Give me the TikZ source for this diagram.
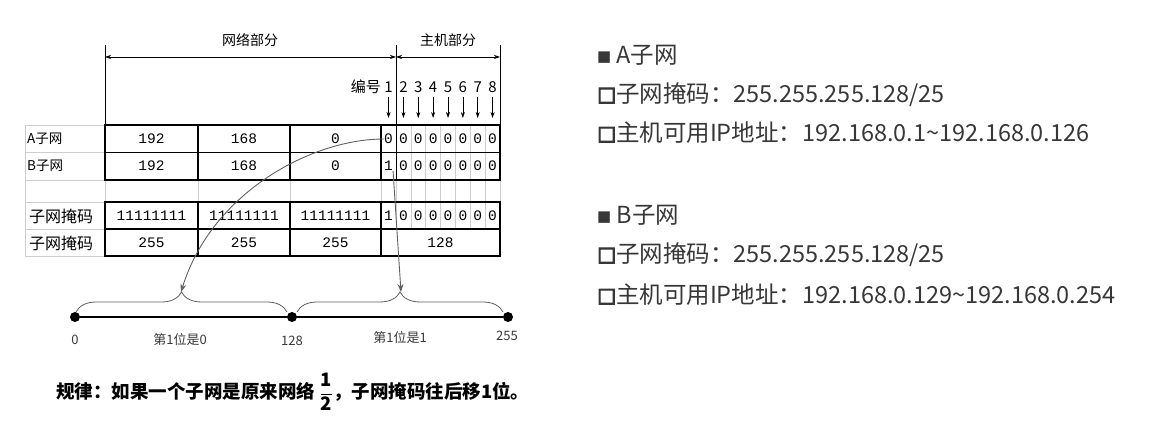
\documentclass[tikz,border=0pt]{standalone}
\usepackage{fontspec}
\usepackage{amsmath}
\setmainfont{Noto Sans CJK SC}
\newfontfamily\cellfont{Liberation Mono}
\newfontfamily\symfont{DejaVu Sans}
\newfontfamily\symbold{DejaVu Sans}[FakeBold=5]
\usetikzlibrary{arrows.meta}
\usetikzlibrary{decorations.pathreplacing}
\definecolor{gridgray}{RGB}{205,205,205}
\definecolor{textgray}{RGB}{55,55,55}
\definecolor{arrowgray}{RGB}{95,95,95}
\newcommand{\filledmark}{\raisebox{1.5pt}{\symfont\fontsize{15}{15}\selectfont ■}}
\newcommand{\hollowmark}{\raisebox{2pt}{\symbold\fontsize{20}{20}\selectfont □}}
\tikzset{
  thickline/.style={line width=1.6pt,black},
  gridline/.style={line width=0.6pt,gridgray},
  cell/.style={font=\cellfont\fontsize{14.5}{14.5}\selectfont,inner sep=0pt},
  rowlabel/.style={anchor=west,inner sep=0pt},
  dimline/.style={line width=0.7pt,{Stealth[length=6pt,width=4pt]}-{Stealth[length=6pt,width=4pt]}},
  downarrow/.style={line width=0.7pt,-{Stealth[length=6pt,width=4pt]}},
  linkarrow/.style={line width=0.9pt,arrowgray,-{Stealth[length=8pt,width=6pt]}},
  bracedeco/.style={decorate,decoration={brace,amplitude=20pt},line width=0.8pt,arrowgray},
  dot/.style={circle,fill=black,inner sep=0pt,minimum size=10pt},
  scalelabel/.style={font=\fontsize{13}{13}\selectfont,textgray},
  infotext/.style={anchor=west,inner sep=0pt,font=\fontsize{23.5}{23.5}\selectfont,textgray},
}
\begin{document}
\begin{tikzpicture}[x=1pt,y=-1pt]
  \useasboundingbox (0,0) rectangle (1149,422);
  \pgfmathsetmacro{\bitw}{104/7}
  % thin grid
  \foreach \y in {125,152,180,202,229,256}
    \draw[gridline] (25,\y) -- (105,\y);
  \draw[gridline] (25,125) -- (25,256);
  \foreach \x in {105,198,290,381,396,500}
    \draw[gridline] (\x,180) -- (\x,202);
  \draw[gridline] (396,180) -- (396,229);
  \foreach \k in {1,...,6}
    \draw[gridline] ({396+\k*\bitw},125) -- ({396+\k*\bitw},229);
  % thick blocks
  \foreach \top/\bot in {125/180,202/256} {
    \draw[thickline] (105,\top) rectangle (500,\bot);
    \draw[thickline] (105,{(\top+\bot)/2}) -- (500,{(\top+\bot)/2});
    \foreach \x in {198,290,381}
      \draw[thickline] (\x,\top) -- (\x,\bot);
  }
  % row labels
  \node[rowlabel,font=\fontsize{13.5}{13.5}\selectfont] (labA) at (27,139) {A子网};
  \node[rowlabel,font=\fontsize{13.5}{13.5}\selectfont] (labB) at (27,166) {B子网};
  \node[rowlabel,font=\fontsize{16}{16}\selectfont] (labM) at (29,216) {子网掩码};
  \node[rowlabel,font=\fontsize{16}{16}\selectfont] (labD) at (29,243) {子网掩码};
  % octets
  \foreach \x/\v [count=\i] in {151.5/192,244/168,335.5/0} {
    \node[cell] (anet\i) at (\x,139) {\v};
    \node[cell] (bnet\i) at (\x,166) {\v};
    \node[cell] (mbin\i) at (\x,216) {11111111};
    \node[cell] (mdec\i) at (\x,243) {255};
  }
  \node[cell] (mdec4) at (440.5,243) {128};
  % bits
  \foreach \r/\y/\first in {a/139/0,b/166/1,m/216/1} {
    \node[cell] (\r1) at (388.5,\y) {\first};
    \foreach \k in {2,...,8}
      \node[cell] (\r\k) at ({396+(\k-1.5)*\bitw},\y) {0};
  }
  % network / host parts
  \coordinate (netL) at (105,57);
  \coordinate (split) at (396,57);
  \coordinate (hostR) at (500,57);
  \draw[line width=0.7pt] (105,45) -- (105,125);
  \draw[line width=0.7pt] (396,45) -- (396,180);
  \draw[line width=0.7pt] (500,45) -- (500,125);
  \draw[dimline] (netL) -- (split);
  \draw[dimline] (split) -- (hostR);
  \node[font=\fontsize{14}{14}\selectfont] (netpart) at (250,40) {网络部分};
  \node[font=\fontsize{14}{14}\selectfont] (hostpart) at (448,40) {主机部分};
  \node[anchor=east,font=\fontsize{15}{15}\selectfont,inner sep=0pt] (numlabel) at (381,87) {编号};
  \foreach \k in {1,...,8} {
    \pgfmathsetmacro{\bx}{\k==1 ? 388.5 : 396+(\k-1.5)*\bitw}
    \node[font=\fontsize{15}{15}\selectfont,inner sep=0pt] (num\k) at (\bx,87) {\k};
    \draw[downarrow] ([yshift=-4pt]num\k.south) -- (num\k.south |- 0,118);
  }
  % scale 0..255
  \node[dot] (p0) at (75,317) {};
  \node[dot] (p128) at (292,317) {};
  \node[dot] (p255) at (508,317) {};
  \draw[line width=2.6pt] (p0) -- (p255);
  \draw[bracedeco] (76,312) -- (287,312);
  \draw[bracedeco] (297,312) -- (503,312);
  \coordinate (ltip) at (181,292);
  \coordinate (rtip) at (401,292);
  \draw[linkarrow] (a1.west) .. controls (312,139) and (212,192) .. (ltip);
  \draw[linkarrow] (b1.south east) -- (rtip);
  \node[scalelabel] (l0) at (75,340) {0};
  \node[scalelabel] (lhalf0) at (180,340) {第1位是0};
  \node[scalelabel] (l128) at (292,341) {128};
  \node[scalelabel] (lhalf1) at (400,338) {第1位是1};
  \node[scalelabel] (l255) at (507,336) {255};
  % rule
  \node[anchor=west,inner sep=0pt,font=\bfseries\fontsize{18.5}{18.5}\selectfont] (rule) at (56,392)
    {规律：如果一个子网是原来网络 $\dfrac{\textbf{1}}{\textbf{2}}$，子网掩码往后移1位。};
  % subnet notes
  \node[infotext] (headA) at (597,55) {\filledmark\ A子网};
  \node[infotext] (maskA) at (597,95) {\hollowmark 子网掩码：255.255.255.128/25};
  \node[infotext] (hostA) at (597,133) {\hollowmark 主机可用IP地址：192.168.0.1\textasciitilde192.168.0.126};
  \node[infotext] (headB) at (597,215) {\filledmark\ B子网};
  \node[infotext] (maskB) at (597,255) {\hollowmark 子网掩码：255.255.255.128/25};
  \node[infotext] (hostB) at (597,295) {\hollowmark 主机可用IP地址：192.168.0.129\textasciitilde192.168.0.254};
\end{tikzpicture}
\end{document}
